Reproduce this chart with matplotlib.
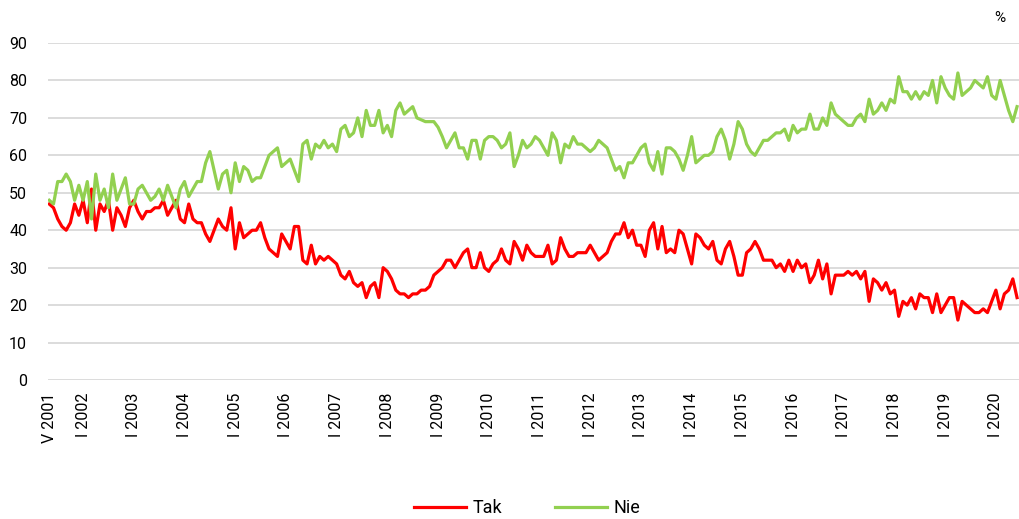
import matplotlib
matplotlib.use("Agg")
import matplotlib.pyplot as plt

plt.rcParams['font.family'] = ['Roboto', 'DejaVu Sans']

# Monthly series, V 2001 .. VI 2020
tak = [47, 46, 43, 41, 40, 42, 47, 44, 48, 42, 51, 40, 47, 45, 48, 40, 46, 44, 41, 46,
       48, 45, 43, 45, 45, 46, 46, 48, 44, 46, 48, 43, 42, 47, 43, 42, 42, 39, 37, 40,
       43, 41, 40, 46, 35, 42, 38, 39, 40, 40, 42, 38, 35, 34, 33, 39, 37, 35, 41, 41,
       32, 31, 36, 31, 33, 32, 33, 32, 31, 28, 27, 29, 26, 25, 26, 22, 25, 26, 22, 30,
       29, 27, 24, 23, 23, 22, 23, 23, 24, 24, 25, 28, 29, 30, 32, 32, 30, 32, 34, 35,
       30, 30, 34, 30, 29, 31, 32, 35, 32, 31, 37, 35, 32, 36, 34, 33, 33, 33, 36, 31,
       32, 38, 35, 33, 33, 34, 34, 34, 36, 34, 32, 33, 34, 37, 39, 39, 42, 38, 40, 36,
       36, 33, 40, 42, 35, 41, 34, 35, 34, 40, 39, 35, 31, 39, 38, 36, 35, 37, 32, 31,
       35, 37, 33, 28, 28, 34, 35, 37, 35, 32, 32, 32, 30, 31, 29, 32, 29, 32, 30, 31,
       26, 28, 32, 27, 31, 23, 28, 28, 28, 29, 28, 29, 27, 29, 21, 27, 26, 24, 26, 23,
       24, 17, 21, 20, 22, 19, 23, 22, 22, 18, 23, 18, 20, 22, 22, 16, 21, 20, 19, 18,
       18, 19, 18, 21, 24, 19, 23, 24, 27, 22]
nie = [48, 47, 53, 53, 55, 53, 48, 52, 48, 53, 43, 55, 48, 51, 46, 55, 48, 51, 54, 47,
       47, 51, 52, 50, 48, 49, 51, 48, 52, 49, 46, 51, 53, 49, 51, 53, 53, 58, 61, 56,
       51, 55, 56, 50, 58, 53, 57, 56, 53, 54, 54, 57, 60, 61, 62, 57, 58, 59, 56, 53,
       63, 64, 59, 63, 62, 64, 62, 63, 61, 67, 68, 65, 66, 70, 65, 72, 68, 68, 72, 66,
       68, 65, 72, 74, 71, 72, 73, 70, 69.5, 69, 69, 69, 67.5, 65, 62, 64, 66, 62, 62, 59,
       64, 64, 59, 64, 65, 65, 64, 62, 63, 66, 57, 60, 64, 62, 63, 65, 64, 62, 60, 66,
       64, 58, 63, 62, 65, 63, 63, 62, 61, 62, 64, 63, 62, 59, 56, 57, 54, 58, 58, 60,
       62, 63, 58, 56, 61, 55, 62, 62, 61, 59, 56, 60, 65, 58, 59, 60, 60, 61, 65, 67,
       64, 59, 63, 69, 67, 63, 61, 60, 62, 64, 64, 65, 66, 66, 67, 64, 68, 66, 67, 67,
       71, 67, 67, 70, 68, 74, 71, 70, 69, 68, 68, 70, 71, 69, 75, 71, 72, 74, 72, 75,
       74, 81, 77, 77, 75, 77, 75, 77, 76, 80, 74, 81, 78, 76, 75, 82, 76, 77, 78, 80,
       79, 78, 81, 76, 75, 80, 76, 72, 69, 73]

tick_pos = [0, 8, 20, 32, 44, 56, 68, 80, 92, 104, 116, 128, 140, 152, 164, 176,
            188, 200, 212, 224]
tick_labels = ["V 2001", "I 2002", "I 2003", "I 2004", "I 2005", "I 2006", "I 2007",
               "I 2008", "I 2009", "I 2010", "I 2011", "I 2012", "I 2013", "I 2014",
               "I 2015", "I 2016", "I 2017", "I 2018", "I 2019", "I 2020"]
yticks = [0, 10, 20, 30, 40, 50, 60, 70, 80, 90]

W, H = 1020, 519
fig = plt.figure(figsize=(W / 100, H / 100), dpi=100)
ax = fig.add_axes([48 / W, 1 - 380 / H, (1020 - 48) / W, (380 - 43) / H])

x = list(range(len(tak)))
ax.plot(x, tak, color='#FF0000', lw=2.3, label='Tak', solid_joinstyle='round')
ax.plot(x, nie, color='#92D050', lw=2.3, label='Nie', solid_joinstyle='round')

ax.set_xlim(-0.3, 229.7)
ax.set_ylim(0, 90)
ax.set_yticks(yticks)
ax.set_yticklabels([str(v) for v in yticks], fontsize=11.5, color='#000000')
ax.set_xticks(tick_pos)
ax.set_xticklabels(tick_labels, rotation=90, fontsize=11.5, color='#000000')
ax.tick_params(axis='both', length=0)
ax.tick_params(axis='y', pad=15)
ax.tick_params(axis='x', pad=9)
ax.grid(axis='y', color='#D9D9D9', lw=1.3)
ax.set_axisbelow(True)
for s in ax.spines.values():
    s.set_visible(False)

fig.text(1000 / W, 1 - 18 / H, '%', fontsize=11, ha='center', va='center')

leg = fig.legend(loc='center', bbox_to_anchor=(527 / W, 1 - 508 / H), ncol=2, frameon=False,
                 fontsize=13, handlelength=2.9, columnspacing=2.9, handletextpad=0.35)

fig.savefig('out.png', dpi=100)
